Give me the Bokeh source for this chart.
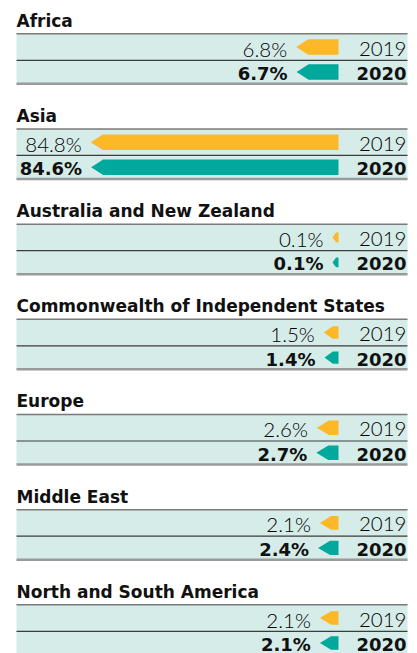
from bokeh.plotting import figure
from bokeh.models import Range1d
from bokeh.core.properties import value
from bokeh.embed import file_html
from bokeh.resources import INLINE

# ---- data ----
regions = ["Africa", "Asia", "Australia and New Zealand",
           "Commonwealth of Independent States", "Europe",
           "Middle East", "North and South America"]
share_2019 = [6.8, 84.8, 0.1, 1.5, 2.6, 2.1, 2.1]
share_2020 = [6.7, 84.6, 0.1, 1.4, 2.7, 2.4, 2.1]
years = ["2019", "2020"]

# ---- style / layout ----
YELLOW = "#fcb827"
TEAL = "#00a99c"
ROW_BG = "#d5ece8"
TXT = "#111111"
LEFT, RIGHT, BAR_END = 16, 407, 338
TOP0, STEP = 33.3, 95.17
MID_OFF, BOT_OFF = 26.5, 50.0
LIGHT_FONT = value("Lato Light, DejaVu Sans")
BOLD_FONT = value("DejaVu Sans")


def bar_len(v):
    # display scale of the original graphic (compressed power scale)
    return max(6.0, 11.07 * v ** 0.7)


p = figure(width=417, height=653, x_range=Range1d(0, 417), y_range=Range1d(653, 0),
           output_backend="svg", toolbar_location=None, min_border=0)
p.axis.visible = False
p.grid.visible = False
p.outline_line_color = None
p.background_fill_color = "white"

bg_l, bg_r, bg_t, bg_b = [], [], [], []
seg = {"top": [], "mid": [], "bot": []}
arrows = {YELLOW: ([], []), TEAL: ([], [])}
title_x, title_y = [], []
light = {"x": [], "y": [], "t": []}
bold = {"x": [], "y": [], "t": []}

for i, name in enumerate(regions):
    T = TOP0 + STEP * i
    title_x.append(LEFT)
    title_y.append(T - 13)
    bg_l.append(LEFT); bg_r.append(RIGHT); bg_t.append(T); bg_b.append(T + BOT_OFF)
    seg["top"].append(T)
    seg["mid"].append(T + MID_OFF)
    seg["bot"].append(T + BOT_OFF)
    centers = [T + MID_OFF / 2, T + MID_OFF + (BOT_OFF - MID_OFF) / 2]
    for j, (vals, col) in enumerate([(share_2019, YELLOW), (share_2020, TEAL)]):
        v = vals[i]
        c = centers[j]
        L = bar_len(v)
        tip = BAR_END - L
        h = min(15.5, 8 + 0.3 * L)
        head = min(12.0, 0.6 * L)
        arrows[col][0].append([BAR_END, BAR_END, tip + head, tip, tip + head])
        arrows[col][1].append([c - h / 2, c + h / 2, c + h / 2, c, c - h / 2])
        d = light if j == 0 else bold
        d["x"].append(tip - 9); d["y"].append(c + 1.5); d["t"].append(f"{v:.1f}%")
        d["x"].append(RIGHT - 1); d["y"].append(c + 1.5); d["t"].append(years[j])

p.quad(left=bg_l, right=bg_r, top=bg_t, bottom=bg_b, fill_color=ROW_BG, line_color=None)
for key, col, w in [("top", "#7a7a7a", 1.5), ("mid", "#3c3c3c", 1.2), ("bot", "#9a9a9a", 2.5)]:
    ys = seg[key]
    p.segment(x0=[LEFT] * len(ys), x1=[RIGHT] * len(ys), y0=ys, y1=ys, line_color=col, line_width=w)

for col, (xs, ys) in arrows.items():
    p.patches(xs, ys, fill_color=col, line_color=None)

p.text(x=title_x, y=title_y, text=regions, text_font=BOLD_FONT, text_font_style="bold",
       text_font_size="17px", text_color=TXT, text_align="left", text_baseline="alphabetic")
p.text(x=light["x"], y=light["y"], text=light["t"], text_font=LIGHT_FONT,
       text_font_size="20.5px", text_color="#000000", text_align="right", text_baseline="alphabetic")
p.text(x=bold["x"], y=bold["y"], text=bold["t"], text_font=BOLD_FONT, text_font_style="bold",
       text_font_size="18px", text_color=TXT, text_align="right", text_baseline="alphabetic")

open("out.html", "w").write(file_html(p, INLINE))
